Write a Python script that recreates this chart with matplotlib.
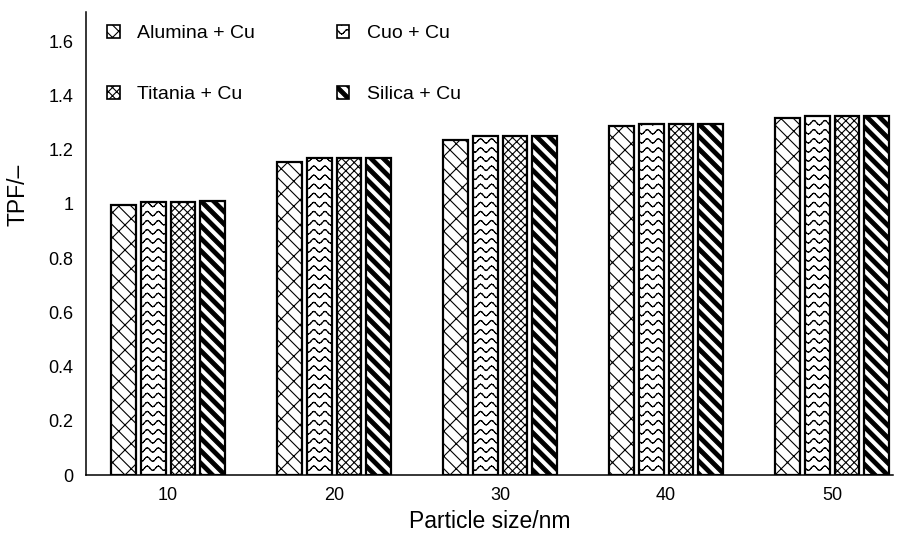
import numpy as np
import matplotlib
matplotlib.use('Agg')
import matplotlib.pyplot as plt
import matplotlib.hatch as mhatch
from matplotlib.path import Path

# ---------------- data ----------------
categories = ['10', '20', '30', '40', '50']
series_names = ['Alumina + Cu', 'Cuo + Cu', 'Titania + Cu', 'Silica + Cu']
alumina = [0.995, 1.155, 1.235, 1.285, 1.315]
cuo = [1.005, 1.170, 1.250, 1.295, 1.325]
titania = [1.005, 1.170, 1.250, 1.295, 1.325]
silica = [1.010, 1.170, 1.250, 1.295, 1.325]
ytick_values = [0, 0.2, 0.4, 0.6, 0.8, 1.0, 1.2, 1.4, 1.6]
ytick_labels = ['0', '0.2', '0.4', '0.6', '0.8', '1', '1.2', '1.4', '1.6']
x_label = 'Particle size/nm'
y_label = 'TPF/\u2013'


# ---------------- custom hatch patterns ----------------
class _PolyHatch(mhatch.HatchPatternBase):
    char = '?'

    def __init__(self, hatch, density):
        self.polys = self.build() if hatch.count(self.char) else []
        self.num_vertices = sum(len(p) for p in self.polys)

    def build(self):
        return []

    def set_vertices_and_codes(self, vertices, codes):
        i = 0
        for p in self.polys:
            k = len(p)
            vertices[i:i + k] = p
            codes[i] = Path.MOVETO
            codes[i + 1:i + k] = Path.LINETO
            i += k


def _segments(pts):
    return [np.array([pts[i], pts[i + 1]]) for i in range(len(pts) - 1)]


class WaveHatch(_PolyHatch):
    char = '~'

    def build(self):
        rows, periods, amp = 11, 9, 0.022
        out = []
        x = np.linspace(0, 1, periods * 8 + 1)
        for r in range(rows):
            y0 = (r + 0.5) / rows
            y = y0 + amp * np.sin(2 * np.pi * periods * x)
            out += _segments(np.column_stack([x, y]))
        return out


class NetHatch(_PolyHatch):
    """Diagonal brick / chain-link pattern."""
    char = 'n'

    def build(self):
        n, m = 8, 8
        p = 1.0 / m
        t = 1.0 / (2 * n)
        out = []
        for k in range(0, 2 * n + 1):
            c = k / n
            if c <= 1:
                out.append(np.array([(0, c), (c, 0)]))
            else:
                out.append(np.array([(c - 1, 1), (1, c - 1)]))
        for k in range(-1, 2 * n + 1):
            c = k / n
            off = 0.5 * p if (k % 2) else 0.0
            for j in range(-2, m + 3):
                x0 = j * p + off
                y0 = c - x0
                out.append(np.array([(x0, y0), (x0 + t, y0 + t)]))
        return out


class StripeHatch(_PolyHatch):
    char = 's'

    def build(self):
        n, d = 8, 0.026
        out = []
        for k in range(-n - 1, n + 2):
            c = k / n
            out.append(np.array([(0, 1 + c - d), (1, c - d), (1, c + d),
                                 (0, 1 + c + d), (0, 1 + c - d)]))
        return out


mhatch._hatch_types.extend([WaveHatch, NetHatch, StripeHatch])
mhatch._validate_hatch_pattern = lambda hatch: None

# ---------------- figure ----------------
plt.rcParams['font.family'] = ['Liberation Sans', 'DejaVu Sans']
plt.rcParams['hatch.linewidth'] = 0.8
plt.rcParams['hatch.color'] = 'black'

W, H = 915, 538
fig = plt.figure(figsize=(W / 100, H / 100), dpi=100)
ax = fig.add_axes([86 / W, 1 - 475 / H, (893 - 86) / W, (475 - 12) / H])

series = [alumina, cuo, titania, silica]
hatches = ['n', '~', 'xxxx', 's']
x = np.arange(len(categories))
pitch, width = 0.18, 0.15
bars = []
for i, (vals, name, h) in enumerate(zip(series, series_names, hatches)):
    b = ax.bar(x + (i - 1.5) * pitch, vals, width, facecolor='white',
               edgecolor='black', linewidth=1.6, hatch=h, label=name, zorder=2)
    bars.append(b)

ax.set_xlim(-0.494, 4.367)
ax.set_ylim(0, 1.707)
ax.set_xticks(x)
ax.set_xticklabels(categories)
ax.set_yticks(ytick_values)
ax.set_yticklabels(ytick_labels)
ax.tick_params(axis='both', length=0, labelsize=13)
ax.tick_params(axis='y', pad=9)
ax.tick_params(axis='x', pad=9)
for sp in ['top', 'right']:
    ax.spines[sp].set_visible(False)
for sp in ['left', 'bottom']:
    ax.spines[sp].set_linewidth(1.1)

ax.set_xlabel(x_label, fontsize=16.5)
ax.set_ylabel(y_label, fontsize=16.5)
ax.xaxis.set_label_coords((490 - 86) / 807, -(522 - 475) / 463)
ax.yaxis.set_label_coords(-(86 - 18) / 807, (475 - 195) / 463)
ax.xaxis.label.set_va('center')
ax.yaxis.label.set_va('center')

# legend: row 1 = Alumina, Cuo ; row 2 = Titania, Silica
order = [0, 2, 1, 3]
handles = [bars[i] for i in order]
labels = [series_names[i] for i in order]
leg = ax.legend(handles, labels, loc='upper left',
                bbox_to_anchor=(107 / W, 1 - 25 / H),
                bbox_transform=fig.transFigure, ncol=2, frameon=False,
                fontsize=14, handlelength=0.65, handleheight=0.65,
                handletextpad=0.9, columnspacing=4.2, labelspacing=2.25,
                borderpad=0, borderaxespad=0)
for p in leg.get_patches():
    p.set_linewidth(1.2)

fig.savefig('out.png', dpi=100)
